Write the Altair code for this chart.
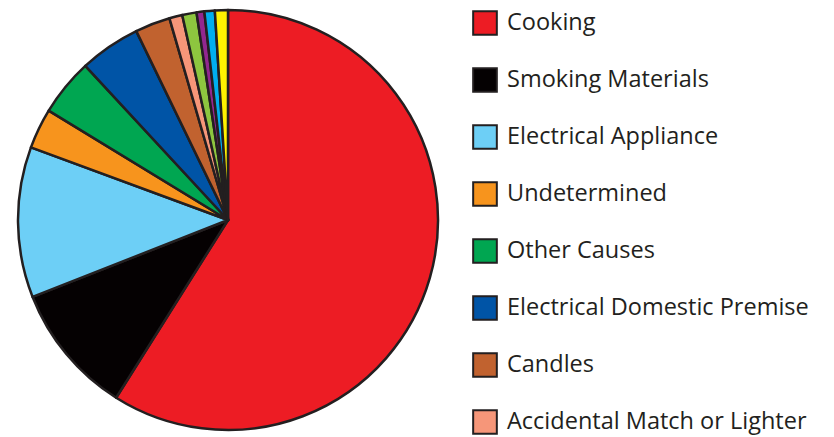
import altair as alt
import pandas as pd

# Causes of accidental dwelling fires, clockwise from 12 o'clock
causes = [
    "Cooking",
    "Smoking Materials",
    "Electrical Appliance",
    "Undetermined",
    "Other Causes",
    "Electrical Domestic Premise",
    "Candles",
    "Accidental Match or Lighter",
    "Heating Appliance",
    "Chimney",
    "Blowlamp",
    "Naked Flame",
]
shares = [59.0, 10.1, 11.6, 3.1, 4.4, 4.7, 2.7, 1.0, 1.1, 0.6, 0.8, 1.0]
colors = [
    "#ED1C24", "#050102", "#6DCFF6", "#F7941D", "#00A651", "#0054A6",
    "#C1622F", "#F69679", "#8DC63F", "#92278F", "#00AEEF", "#FFF200",
]
legend_shown = causes[:8]

df = pd.DataFrame({"cause": causes, "share": shares, "idx": list(range(len(causes)))})

chart = (
    alt.Chart(df)
    .mark_arc(radius=210, stroke="#231F20", strokeWidth=2.5, strokeJoin="round")
    .encode(
        theta=alt.Theta("share:Q", stack=True),
        order=alt.Order("idx:Q", sort="ascending"),
        color=alt.Color(
            "cause:N",
            sort=causes,
            scale=alt.Scale(domain=causes, range=colors),
            legend=alt.Legend(
                title=None,
                values=legend_shown,
                orient="none",
                legendX=472,
                legendY=10,
                symbolType="square",
                symbolSize=560,
                symbolStrokeColor="#231F20",
                symbolStrokeWidth=2,
                symbolOpacity=1,
                labelFont="Open Sans",
                labelFontSize=23.5,
                labelColor="#231F20",
                labelOffset=9,
                labelLimit=400,
                rowPadding=25,
            ),
        ),
        x=alt.value(228),
        y=alt.value(220),
    )
    .properties(width=834, height=437, padding=0, autosize=alt.AutoSizeParams(type="none"))
    .configure_view(stroke=None)
)

chart.save("out.html", embed_options={"renderer": "svg", "actions": False})
